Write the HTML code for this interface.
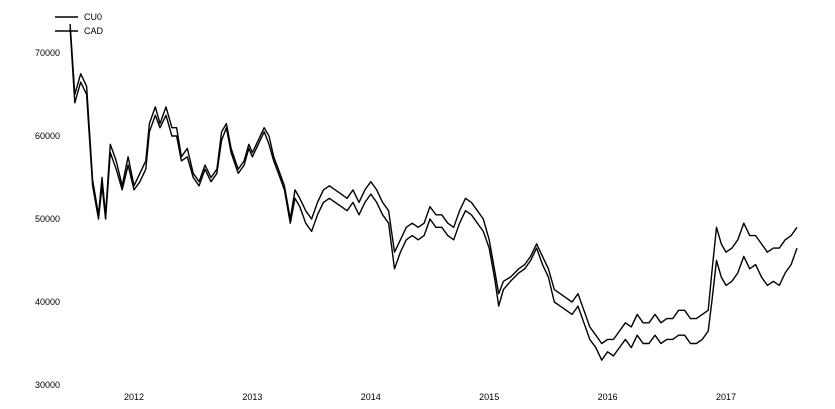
<!DOCTYPE html>
<html><head><meta charset="utf-8">
<style>
html,body{margin:0;padding:0;background:#fff;}
svg{display:block;font-family:"Liberation Sans",sans-serif;}
</style></head>
<body>
<svg id="chart" width="835" height="409" viewBox="0 0 835 409">
<g id="yaxis"></g>
<g id="xaxis"></g>
<g id="series"></g>
<g>
 <g>
  <line x1="55" y1="17" x2="78" y2="17" stroke="#000" stroke-width="1.6"/>
  <text x="84" y="20" font-size="9">CU0</text>
 </g>
 <g>
  <line x1="55" y1="31" x2="78" y2="31" stroke="#000" stroke-width="1.6"/>
  <text x="84" y="34" font-size="9">CAD</text>
 </g>
</g>
</svg>
<script>
const yTicks=[30000,40000,50000,60000,70000];
const xTicks=[2012,2013,2014,2015,2016,2017];
const dates=[2011.46,2011.50,2011.55,2011.60,2011.65,2011.70,2011.73,2011.76,2011.80,2011.85,2011.90,2011.95,
2012.00,2012.05,2012.10,2012.13,2012.18,2012.22,2012.27,2012.32,2012.36,2012.40,2012.45,2012.50,2012.55,2012.60,2012.65,2012.70,2012.74,2012.78,2012.82,2012.88,2012.93,2012.97,
2013.00,2013.05,2013.10,2013.14,2013.18,2013.22,2013.27,2013.32,2013.36,2013.40,2013.45,2013.50,2013.55,2013.60,2013.65,2013.70,2013.75,2013.80,2013.85,2013.90,2013.95,
2014.00,2014.05,2014.10,2014.15,2014.20,2014.25,2014.30,2014.35,2014.40,2014.45,2014.50,2014.55,2014.60,2014.65,2014.70,2014.75,2014.80,2014.85,2014.90,2014.95,
2015.00,2015.05,2015.08,2015.12,2015.18,2015.25,2015.30,2015.35,2015.40,2015.45,2015.50,2015.55,2015.60,2015.65,2015.70,2015.75,2015.80,2015.85,2015.90,2015.95,
2016.00,2016.05,2016.10,2016.15,2016.20,2016.25,2016.30,2016.35,2016.40,2016.45,2016.50,2016.55,2016.60,2016.65,2016.70,2016.75,2016.80,2016.85,2016.88,2016.92,2016.96,
2017.00,2017.05,2017.10,2017.15,2017.20,2017.25,2017.30,2017.35,2017.40,2017.45,2017.50,2017.55,2017.60];
const cu0=[73500,65000,67500,66000,54700,50500,55000,50500,59000,57000,54000,57500,
54000,55500,57000,61500,63500,61500,63500,61000,61000,57500,58500,55500,54500,56500,55000,56000,60500,61500,58500,56000,57000,59000,
58000,59500,61000,60000,57500,56000,54000,50000,53500,52500,51000,50000,52000,53500,54000,53500,53000,52500,53500,52000,53500,
54500,53500,52000,51000,46000,47500,49000,49500,49000,49500,51500,50500,50500,49500,49000,51000,52500,52000,51000,50000,
47500,43500,41000,42500,43000,44000,44500,45500,47000,45500,44000,41500,41000,40500,40000,41000,39000,37000,36000,35000,
35500,35500,36500,37500,37000,38500,37500,37500,38500,37500,38000,38000,39000,39000,38000,38000,38500,39000,43500,49000,47000,
46000,46500,47500,49500,48000,48000,47000,46000,46500,46500,47500,48000,49000];
const cad=[73000,64000,66500,65000,54000,50000,54000,50000,58000,56000,53500,56500,
53500,54500,56000,60500,62500,61000,62500,60000,60000,57000,57500,55000,54000,56000,54500,55500,59500,61000,58000,55500,56500,58500,
57500,59000,60500,59000,57000,55500,53500,49500,52500,51500,49500,48500,50500,52000,52500,52000,51500,51000,52000,50500,52000,
53000,52000,50500,49500,44000,46000,47500,48000,47500,48000,50000,49000,49000,48000,47500,49500,51000,50500,49500,48500,
46500,42500,39500,41500,42500,43500,44000,45000,46500,44500,43000,40000,39500,39000,38500,39500,37500,35500,34500,33000,
34000,33500,34500,35500,34500,36000,35000,35000,36000,35000,35500,35500,36000,36000,35000,35000,35500,36500,40000,45000,43000,
42000,42500,43500,45500,44000,44500,43000,42000,42500,42000,43500,44500,46500];

const svg=document.getElementById('chart');
const NS='http://www.w3.org/2000/svg';
function xs(t){return 134+(t-2012)*118.4;}
function ys(v){return 385-(v-30000)*0.0083;}
const yg=document.getElementById('yaxis');
yTicks.forEach(v=>{
 const t=document.createElementNS(NS,'text');
 
 
 t.setAttribute('x',60);t.setAttribute('y',ys(v)+3);
 t.setAttribute('text-anchor','end');t.setAttribute('font-size','9');
 t.textContent=v;yg.appendChild(t);
});
const xg=document.getElementById('xaxis');
xTicks.forEach(v=>{
 const t=document.createElementNS(NS,'text');
 
 
 t.setAttribute('x',xs(v));t.setAttribute('y',400);
 t.setAttribute('text-anchor','middle');t.setAttribute('font-size','9');
 t.textContent=v;xg.appendChild(t);
});
const sg=document.getElementById('series');
function draw(vals,name){
 const p=document.createElementNS(NS,'polyline');
 
 
 p.setAttribute('points',vals.map((v,i)=>xs(dates[i]).toFixed(1)+','+ys(v).toFixed(1)).join(' '));
 p.setAttribute('fill','none');p.setAttribute('stroke','#000');
 p.setAttribute('stroke-width','1.4');p.setAttribute('stroke-linejoin','round');
 sg.appendChild(p);
}
draw(cu0,'cu0-line');
draw(cad,'cad-line');
</script>
</body></html>
